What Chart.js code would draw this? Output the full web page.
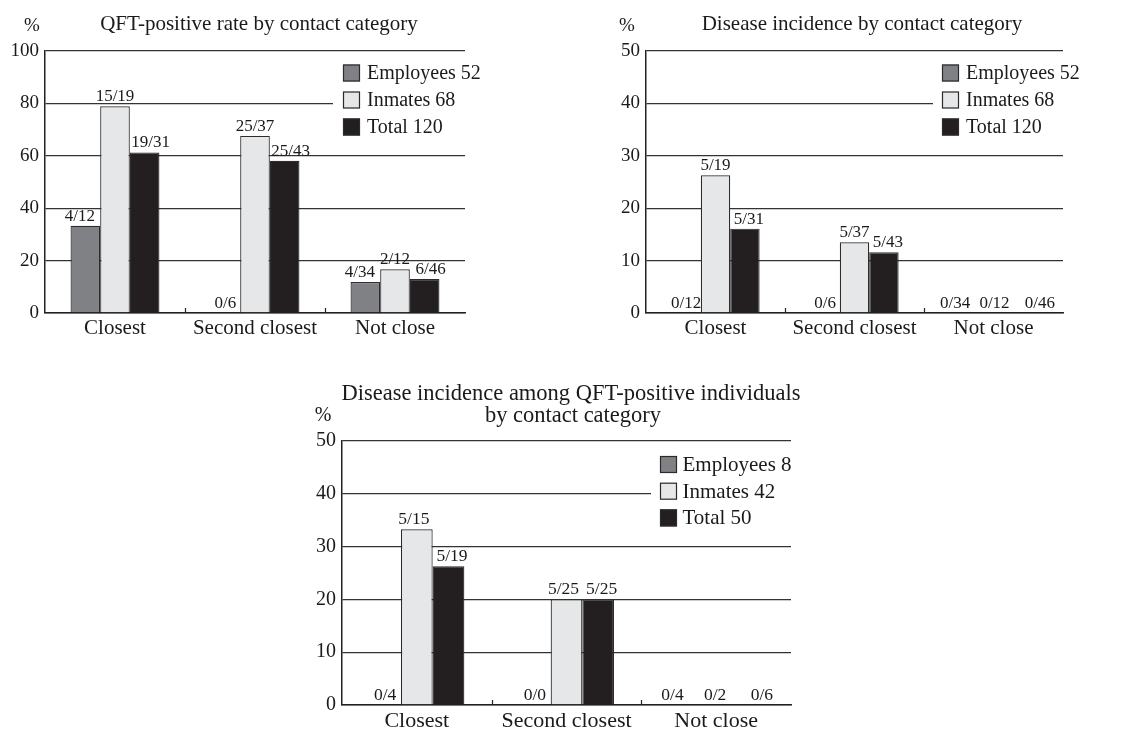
<!DOCTYPE html>
<html>
<head>
<meta charset="utf-8">
<title>Contact category charts</title>
<script src="https://cdn.jsdelivr.net/npm/chart.js@4.4.1/dist/chart.umd.min.js"></script>
<style>
  body { margin: 0; background: #fff; width: 1123px; height: 729px; position: relative; overflow: hidden; }
  canvas { position: absolute; }
</style>
</head>
<body>
<canvas id="qft" width="560" height="345" style="left:0;top:0"></canvas>
<canvas id="disease" width="563" height="345" style="left:560px;top:0"></canvas>
<canvas id="positive" width="520" height="359" style="left:290px;top:370px"></canvas>
<script>
const categories = ['Closest', 'Second closest', 'Not close'];

// QFT-positive rate (%)
const qftEmployees = [33.3, 0, 11.8];
const qftInmates   = [78.9, 67.6, 16.7];
const qftTotal     = [61.3, 58.1, 13.0];
const qftEmployeesText = ['4/12', '0/6', '4/34'];
const qftInmatesText   = ['15/19', '25/37', '2/12'];
const qftTotalText     = ['19/31', '25/43', '6/46'];
const qftLegend = ['Employees 52', 'Inmates 68', 'Total 120'];

// Disease incidence (%)
const diseaseEmployees = [0, 0, 0];
const diseaseInmates   = [26.3, 13.5, 0];
const diseaseTotal     = [16.1, 11.6, 0];
const diseaseEmployeesText = ['0/12', '0/6', '0/34'];
const diseaseInmatesText   = ['5/19', '5/37', '0/12'];
const diseaseTotalText     = ['5/31', '5/43', '0/46'];
const diseaseLegend = ['Employees 52', 'Inmates 68', 'Total 120'];

// Disease incidence among QFT-positive individuals (%)
const posEmployees = [0, 0, 0];
const posInmates   = [33.3, 20.0, 0];
const posTotal     = [26.3, 20.0, 0];
const posEmployeesText = ['0/4', '0/0', '0/4'];
const posInmatesText   = ['5/15', '5/25', '0/2'];
const posTotalText     = ['5/19', '5/25', '0/6'];
const posLegend = ['Employees 8', 'Inmates 42', 'Total 50'];

const SERIF = "'Liberation Serif', 'Times New Roman', serif";
const fills = ['#808184', '#e6e7e8', '#231f20'];
const ink = '#1a1a1a';

// titles, % unit, value labels, category separators and the boxed legend
const decor = {
  id: 'decor',
  afterDatasetsDraw(chart, args, o) {
    const ctx = chart.ctx, ca = chart.chartArea;
    const xs = chart.scales.x, ys = chart.scales.y;
    ctx.save();

    // small separators between categories
    ctx.strokeStyle = '#222';
    ctx.lineWidth = 1.2;
    for (let i = 1; i < categories.length; i++) {
      const x = Math.round((xs.getPixelForValue(i - 1) + xs.getPixelForValue(i)) / 2) + 0.5;
      ctx.beginPath();
      ctx.moveTo(x, ys.getPixelForValue(0));
      ctx.lineTo(x, ys.getPixelForValue(0) - 5);
      ctx.stroke();
    }

    // fractions above bars
    ctx.fillStyle = ink;
    ctx.font = o.labelSize + 'px ' + SERIF;
    ctx.textAlign = 'center';
    ctx.textBaseline = 'alphabetic';
    const last = categories.length - 1;
    const allZero = chart.data.datasets.every(ds => ds.data[last] === 0);
    chart.data.datasets.forEach((ds, i) => {
      chart.getDatasetMeta(i).data.forEach((bar, j) => {
        let dx = ds.data[j] === 0 ? 0 : o.shift[i];
        if (j === last && allZero) dx = o.spread[i];
        ctx.fillText(ds.texts[j], bar.x + dx, bar.y - 5);
      });
    });

    // legend on a white box inside the plot
    const L = o.legend;
    ctx.fillStyle = '#fff';
    ctx.fillRect(ca.right - L.bgW, ca.top + 3, L.bgW + 2, L.bgH);
    ctx.font = L.fontSize + 'px ' + SERIF;
    ctx.textAlign = 'left';
    ctx.textBaseline = 'middle';
    chart.data.datasets.forEach((ds, i) => {
      const x = ca.right - L.dx, y = ca.top + L.dy + i * L.row;
      ctx.fillStyle = ds.backgroundColor;
      ctx.fillRect(x, y, L.size, L.size);
      ctx.strokeStyle = '#2b2b2b';
      ctx.lineWidth = 1.2;
      ctx.strokeRect(x + 0.5, y + 0.5, L.size - 1, L.size - 1);
      ctx.fillStyle = ink;
      ctx.fillText(ds.label, x + L.textDx, y + L.size / 2 + 1);
    });

    // title lines and unit
    ctx.textAlign = 'center';
    ctx.textBaseline = 'alphabetic';
    ctx.font = o.titleSize + 'px ' + SERIF;
    o.title.forEach(t => ctx.fillText(t.text, t.x, t.y));
    ctx.font = o.tickSize + 'px ' + SERIF;
    ctx.fillText('%', o.unit.x, o.unit.y);
    ctx.restore();
  }
};

function makeChart(id, series, texts, names, yMax, step, d) {
  return new Chart(document.getElementById(id), {
    type: 'bar',
    data: {
      labels: categories,
      datasets: series.map((values, i) => ({
        label: names[i],
        data: values,
        texts: texts[i],
        backgroundColor: fills[i],
        borderColor: '#2b2b2b',
        borderWidth: 1.2,
        borderSkipped: 'bottom',
        barPercentage: 1,
        categoryPercentage: 0.635
      }))
    },
    options: {
      responsive: false,
      animation: false,
      layout: { padding: d.padding },
      plugins: { legend: { display: false }, tooltip: { enabled: false }, decor: d },
      scales: {
        x: {
          grid: { drawOnChartArea: false, drawTicks: false },
          border: { color: '#222', width: 1.5 },
          ticks: { color: ink, font: { family: SERIF, size: d.catSize }, padding: 3, maxRotation: 0 },
          afterFit: s => { s.height = d.xH; }
        },
        y: {
          min: 0,
          max: yMax,
          ticks: { stepSize: step, color: ink, font: { family: SERIF, size: d.tickSize }, padding: 6 },
          grid: { color: '#333', lineWidth: 1.3, drawTicks: false },
          border: { color: '#222', width: 1.5 },
          afterFit: s => { s.width = d.yW; }
        }
      }
    },
    plugins: [decor]
  });
}

makeChart('qft',
  [qftEmployees, qftInmates, qftTotal],
  [qftEmployeesText, qftInmatesText, qftTotalText],
  qftLegend, 100, 20, {
    padding: { top: 51, right: 95, left: 0, bottom: 0 }, yW: 45, xH: 32,
    title: [{ text: 'QFT-positive rate by contact category', x: 259, y: 30 }], titleSize: 21,
    unit: { x: 32, y: 31 }, tickSize: 19, catSize: 21, labelSize: 17,
    shift: [-5.5, 0, 6], spread: [-10, 0, 15],
    legend: { dx: 122, dy: 13.5, size: 17, row: 27, textDx: 24, fontSize: 20, bgW: 132, bgH: 92 }
  });

makeChart('disease',
  [diseaseEmployees, diseaseInmates, diseaseTotal],
  [diseaseEmployeesText, diseaseInmatesText, diseaseTotalText],
  diseaseLegend, 50, 10, {
    padding: { top: 51, right: 60, left: 0, bottom: 0 }, yW: 86, xH: 32,
    title: [{ text: 'Disease incidence by contact category', x: 302, y: 30 }], titleSize: 21,
    unit: { x: 67, y: 31 }, tickSize: 19, catSize: 21, labelSize: 17,
    shift: [-4, 0, 4], spread: [-9, 1, 17],
    legend: { dx: 121, dy: 13.5, size: 17, row: 27, textDx: 24, fontSize: 20, bgW: 130, bgH: 92 }
  });

makeChart('positive',
  [posEmployees, posInmates, posTotal],
  [posEmployeesText, posInmatesText, posTotalText],
  posLegend, 50, 10, {
    padding: { top: 71, right: 19, left: 0, bottom: 0 }, yW: 52, xH: 24,
    title: [
      { text: 'Disease incidence among QFT-positive individuals', x: 281, y: 30 },
      { text: 'by contact category', x: 283, y: 52 }
    ], titleSize: 22.5,
    unit: { x: 33, y: 51 }, tickSize: 20, catSize: 22, labelSize: 17.5,
    shift: [-3, -3, 3.5], spread: [-12, -1, 14],
    legend: { dx: 131, dy: 15, size: 17, row: 26.7, textDx: 22.5, fontSize: 21, bgW: 140, bgH: 95 }
  });
</script>
</body>
</html>
